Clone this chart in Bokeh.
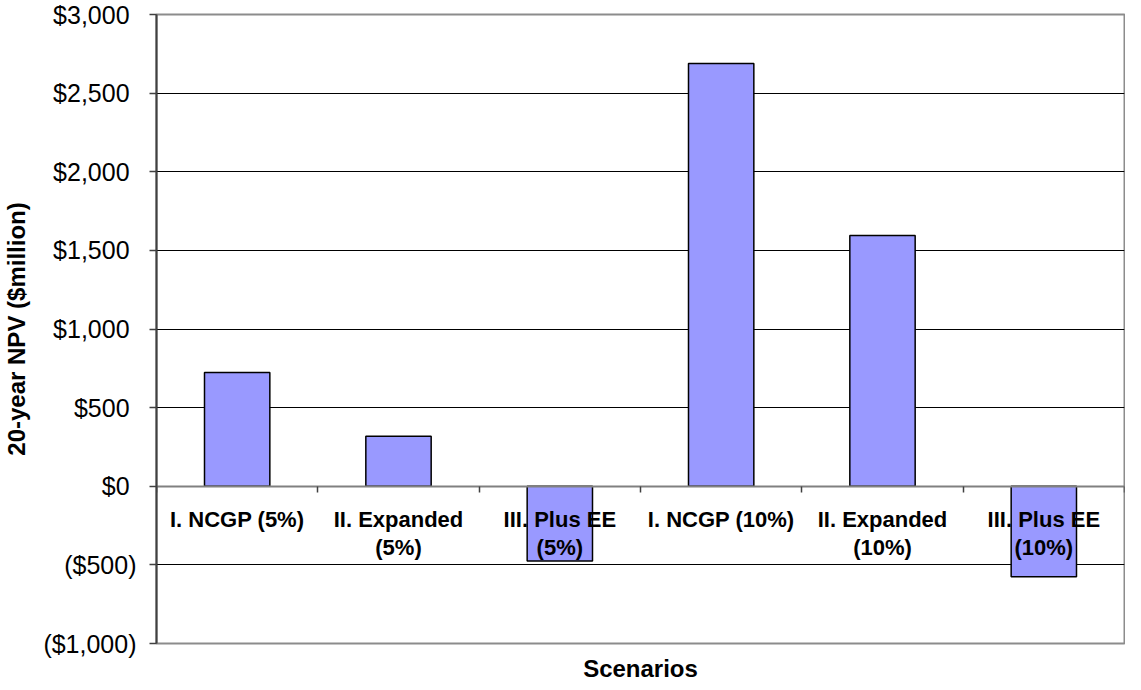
from bokeh.plotting import figure
from bokeh.models import Range1d, FixedTicker, LinearAxis, Title
from bokeh.core.properties import value
from bokeh.embed import file_html
from bokeh.resources import INLINE

categories = ["I. NCGP (5%)", "II. Expanded\n(5%)", "III. Plus EE\n(5%)",
              "I. NCGP (10%)", "II. Expanded\n(10%)", "III. Plus EE\n(10%)"]
npv = [724, 318, -475, 2688, 1594, -576]
y_ticks = [-1000, -500, 0, 500, 1000, 1500, 2000, 2500, 3000]
y_tick_labels = ["($1,000)", "($500)", "$0\u00a0", "$500\u00a0", "$1,000\u00a0",
                 "$1,500\u00a0", "$2,000\u00a0", "$2,500\u00a0", "$3,000\u00a0"]

FONT = "Liberation Sans"
centers = [i + 0.5 for i in range(len(categories))]
zeros = [0] * len(categories)

p = figure(width=1125, height=690, output_backend="svg", toolbar_location=None,
           x_range=Range1d(0, len(categories)), y_range=Range1d(-1000, 3000),
           x_axis_location=None, min_border_left=145, min_border_right=1,
           min_border_top=14, min_border_bottom=47)
p.background_fill_color = "white"
p.border_fill_color = "white"
p.outline_line_color = "#8c8c8c"
p.outline_line_width = 2

# y axis
yax = p.yaxis[0]
yax.ticker = FixedTicker(ticks=y_ticks)
yax.major_label_overrides = {t: l for t, l in zip(y_ticks, y_tick_labels)}
yax.major_label_text_font = FONT
yax.major_label_text_font_size = "25px"
yax.major_label_text_color = "black"
yax.major_label_standoff = 13
yax.major_tick_out = 7
yax.major_tick_in = 0
yax.minor_tick_line_color = None
yax.axis_line_color = "#404040"
yax.axis_line_width = 2
yax.major_tick_line_color = "#404040"
yax.major_tick_line_width = 1.5
yax.axis_label = "20-year NPV ($million)"
yax.axis_label_text_font = FONT
yax.axis_label_text_font_size = "24px"
yax.axis_label_text_font_style = "bold"
yax.axis_label_text_color = "black"
yax.axis_label_standoff = 10

p.xgrid.visible = False
p.ygrid.ticker = FixedTicker(ticks=[t for t in y_ticks if t not in (-1000, 0, 3000)])
p.ygrid.grid_line_color = "black"
p.ygrid.grid_line_width = 1

# bars
p.vbar(x=centers, top=npv, bottom=0, width=0.405, fill_color="#9999FF",
       line_color="black", line_width=1.5)

# zero axis with boundary ticks
zax = LinearAxis(fixed_location=0, ticker=FixedTicker(ticks=list(range(len(categories) + 1))))
zax.major_label_text_color = None
zax.major_tick_out = 6
zax.major_tick_in = 0
zax.minor_tick_line_color = None
zax.axis_line_color = "#808080"
zax.axis_line_width = 2
zax.major_tick_line_color = "#404040"
zax.major_tick_line_width = 1.5
p.add_layout(zax, "below")

# category labels
p.text(x=centers, y=zeros, text=categories, text_align="center", text_baseline="top",
       y_offset=21, text_font=value(FONT), text_font_style="bold",
       text_font_size="22px", text_line_height=1.1, text_color="black")

p.add_layout(Title(text="Scenarios", align="center", text_font=FONT,
                   text_font_size="24px", text_font_style="bold",
                   text_color="black", standoff=18), "below")

open("out.html", "w").write(file_html(p, INLINE))
